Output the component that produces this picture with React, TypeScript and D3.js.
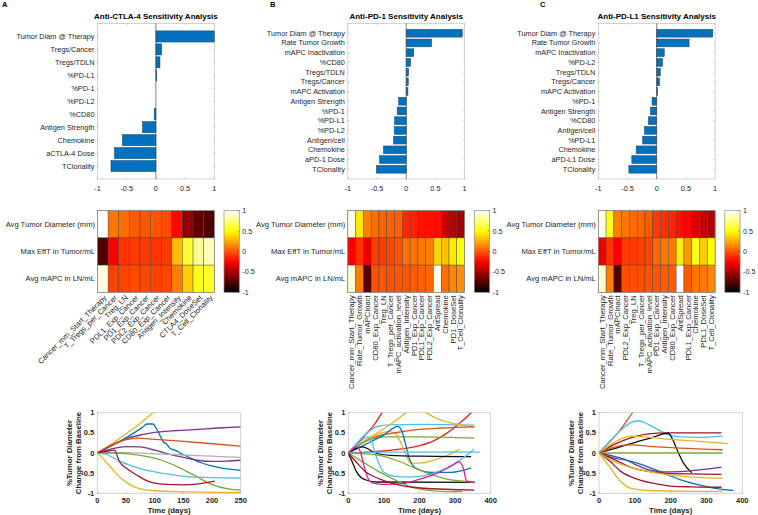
import React from "react";
import * as d3 from "d3";

// ---------------- DATA ----------------
const panelLetters = ["A", "B", "C"];
const titles = [
  "Anti-CTLA-4 Sensitivity Analysis",
  "Anti-PD-1 Sensitivity Analysis",
  "Anti-PD-L1 Sensitivity Analysis",
];

const barLabelsA = ["Tumor Diam @ Therapy", "Tregs/Cancer", "Tregs/TDLN", "%PD-L1", "%PD-1", "%PD-L2", "%CD80", "Antigen Strength", "Chemokine", "aCTLA-4 Dose", "TClonality"];
const barValuesA = [1.0, 0.1, 0.07, 0.015, 0, 0, -0.03, -0.23, -0.575, -0.71, -0.77];

const barLabelsB = ["Tumor Diam @ Therapy", "Rate Tumor Growth", "mAPC Inactivation", "%CD80", "Tregs/TDLN", "Tregs/Cancer", "mAPC Activation", "Antigen Strength", "%PD-1", "%PD-L1", "%PD-L2", "Antigen/cell", "Chemokine", "aPD-1 Dose", "TClonality"];
const barValuesB = [0.96, 0.435, 0.13, 0.075, 0.04, 0.035, 0.03, -0.13, -0.155, -0.2, -0.205, -0.215, -0.39, -0.455, -0.51];

const barLabelsC = ["Tumor Diam @ Therapy", "Rate Tumor Growth", "mAPC Inactivation", "%PD-L2", "Tregs/TDLN", "Tregs/Cancer", "mAPC Activation", "%PD-1", "Antigen Strength", "%CD80", "Antigen/cell", "%PD-L1", "Chemokine", "aPD-L1 Dose", "TClonality"];
const barValuesC = [0.96, 0.555, 0.13, 0.1, 0.062, 0.05, 0.017, -0.08, -0.108, -0.142, -0.21, -0.24, -0.352, -0.426, -0.477];

const heatRowLabels = ["Avg Tumor Diameter (mm)", "Max EffT in Tumor/mL", "Avg mAPC in LN/mL"];

const heatColsA = ["Cancer_mm_Start_Therapy", "T_Tregs_per_Cancer", "Treg_LN", "PDL1_Exp_Cancer", "PD1_Exp_Cancer", "PDL2_Exp_Cancer", "CD80_Exp_Cancer", "Antigen_Intensity", "Chemokine", "CTLA4_DoseSet", "T_Cell_Clonality"];
const heatRow1A = [1.0, 0.1, 0.07, 0.015, 0.0, 0.0, -0.03, -0.23, -0.575, -0.71, -0.77];
const heatRow2A = [-0.76, -0.25, -0.1, -0.08, -0.08, -0.1, -0.08, 0.3, 0.6, 0.8, 0.86];
const heatRow3A = [0.94, -0.06, -0.05, -0.03, -0.04, -0.05, -0.05, 0.12, 0.35, 0.55, 0.58];

const heatColsB = ["Cancer_mm_Start_Therapy", "Rate_Tumor_Growth", "mAPCInact", "CD80_Exp_Cancer", "Treg_LN", "T_Tregs_per_Cancer", "mAPC_activation_level", "Antigen_Intensity", "PD1_Exp_Cancer", "PDL1_Exp_Cancer", "PDL2_Exp_Cancer", "AntSpread", "Chemokine", "PD1_DoseSet", "T_Cell_Clonality"];
const heatRow1B = [0.96, 0.435, 0.13, 0.075, 0.04, 0.035, 0.03, -0.13, -0.155, -0.2, -0.205, -0.215, -0.39, -0.455, -0.51];
const heatRow2B = [-0.25, -0.1, -0.3, -0.07, -0.07, -0.05, -0.02, 0.08, 0.08, 0.1, 0.12, 0.38, 0.32, 0.44, 0.52];
const heatRow3B = [0.92, 0.12, -0.74, -0.02, 0.0, -0.02, 0.0, 0.0, 0.02, 0.03, 0.05, 0.97, 0.08, 0.14, 0.17];

const heatColsC = ["Cancer_mm_Start_Therapy", "Rate_Tumor_Growth", "mAPCInact", "PDL2_Exp_Cancer", "Treg_LN", "T_Tregs_per_Cancer", "mAPC_activation_level", "PD1_Exp_Cancer", "Antigen_Intensity", "CD80_Exp_Cancer", "AntSpread", "PDL1_Exp_Cancer", "Chemokine", "PDL1_DoseSet", "T_Cell_Clonality"];
const heatRow1C = [0.96, 0.555, 0.13, 0.1, 0.062, 0.05, 0.017, -0.08, -0.108, -0.142, -0.21, -0.24, -0.352, -0.426, -0.477];
const heatRow2C = [-0.3, -0.1, -0.25, -0.08, -0.08, -0.06, -0.04, 0.05, 0.1, 0.1, 0.45, 0.2, 0.55, 0.35, 0.5];
const heatRow3C = [0.92, 0.12, -0.76, -0.02, -0.02, -0.02, 0.0, 0.0, 0.02, 0.02, 1.0, 0.02, 0.1, 0.1, 0.15];

const barTicks = [-1, -0.5, 0, 0.5, 1];
const colorbarTicks = [1, 0.5, 0, -0.5, -1];
const lineYTicks = [1, 0.5, 0, -0.5, -1];
const lineXTicksA = [0, 50, 100, 150, 200, 250];
const lineXTicksBC = [0, 100, 200, 300, 400];
const yLabelLines = ["%Tumor Diameter", "Change from Baseline"];
const xLabel = "Time (days)";

type P = [number, number];
// Panel A trajectories (day, fractional change)
const lineA1: P[] = [[0, 0], [25, 0.22], [50, 0.48], [75, 0.74], [97, 1.0], [110, 1.15]];
const lineA2: P[] = [[0, 0], [30, 0.22], [55, 0.42], [78, 0.63], [87, 0.72], [97, 0.72], [101, 0.65], [106, 0.53], [115, 0.28], [121, 0.22], [127, 0.11], [135, 0.07], [147, -0.02], [159, -0.1], [170, -0.18], [199, -0.32], [250, -0.43]];
const lineA3: P[] = [[0, 0], [25, 0.19], [54, 0.37], [80, 0.46], [100, 0.51], [130, 0.55], [170, 0.58], [210, 0.62], [250, 0.65]];
const lineA4: P[] = [[0, 0], [25, 0.2], [50, 0.33], [70, 0.37], [100, 0.34], [140, 0.3], [200, 0.23], [250, 0.17]];
const lineA5: P[] = [[0, 0], [25, 0.1], [50, 0.16], [75, 0.15], [100, 0.07], [125, -0.03], [150, -0.11], [175, -0.18], [200, -0.21], [225, -0.2], [250, -0.18]];
const lineA6: P[] = [[0, 0], [50, 0.01], [100, -0.02], [150, -0.05], [200, -0.08], [250, -0.11]];
const lineA7: P[] = [[0, 0], [30, 0], [54, -0.02], [83, -0.08], [112, -0.18], [141, -0.35], [170, -0.56], [199, -0.78], [228, -0.89], [250, -0.92]];
const lineA8: P[] = [[0, 0], [15, -0.03], [25, -0.1], [42, -0.22], [54, -0.29], [83, -0.42], [112, -0.5], [141, -0.56], [170, -0.6], [250, -0.62]];
const lineA9: P[] = [[0, 0], [20, 0.05], [30, 0.07], [33, 0], [38, -0.2], [45, -0.32], [55, -0.42], [70, -0.56], [85, -0.68], [100, -0.75], [120, -0.78], [150, -0.79], [180, -0.76], [205, -0.7]];
const lineA10: P[] = [[0, 0], [10, -0.14], [25, -0.38], [42, -0.63], [54, -0.76], [72, -0.88], [95, -0.93], [140, -0.96], [250, -0.98]];

// Panel B trajectories
const lineB1: P[] = [[0, 0], [25, 0.23], [50, 0.47], [75, 0.73], [95, 1.0], [105, 1.12]];
const lineB2: P[] = [[0, 0], [50, 0.02], [100, 0.05], [150, 0.1], [200, 0.18], [240, 0.3], [275, 0.48], [310, 0.72], [345, 1.0], [355, 1.1]];
const lineB3: P[] = [[0, 0], [20, 0.2], [40, 0.4], [68, 0.6], [87, 0.67], [115, 0.7], [200, 0.71], [354, 0.69]];
const lineB4: P[] = [[0, 0], [50, 0.33], [100, 0.6], [130, 0.78], [162, 1.0], [190, 1.15], [218, 1.0], [250, 0.85], [290, 0.74], [330, 0.68], [355, 0.64]];
const lineB5: P[] = [[0, 0], [40, 0.25], [80, 0.45], [110, 0.53], [130, 0.5], [145, 0.3], [160, 0.0], [175, -0.25], [200, -0.25], [240, -0.18], [280, -0.05], [313, 0.09]];
const lineB6: P[] = [[0, 0], [40, 0.25], [87, 0.43], [130, 0.5], [181, 0.57], [260, 0.62], [354, 0.65]];
const lineB7: P[] = [[0, 0], [30, 0.2], [60, 0.33], [100, 0.4], [200, 0.4], [354, 0.37]];
const lineB8: P[] = [[0, 0], [50, 0.22], [100, 0.45], [139, 0.66], [150, 0.55], [160, 0.25], [170, -0.1], [180, -0.3], [200, -0.42], [230, -0.48], [290, -0.48], [345, -0.37]];
const lineB9: P[] = [[0, 0], [20, 0.1], [40, 0.15], [60, 0.08], [75, 0.0], [120, -0.06], [200, -0.08], [345, -0.09]];
const lineB10: P[] = [[0, 0], [10, -0.2], [21, -0.43], [35, -0.6], [50, -0.67], [80, -0.72], [355, -0.73]];
const lineB11: P[] = [[0, 0], [30, 0.25], [54, 0.4], [65, 0.3], [75, 0.0], [88, -0.3], [100, -0.48], [130, -0.58], [170, -0.6], [220, -0.55], [270, -0.4], [310, -0.2], [354, 0.1]];
const lineB12: P[] = [[0, 0], [100, 0.02], [200, 0.02], [370, 0.02]];
const lineB13: P[] = [[0, 0], [50, -0.02], [87, -0.06], [134, -0.18], [181, -0.35], [228, -0.52], [274, -0.64], [354, -0.72]];
const lineB14: P[] = [[0, 0], [40, -0.22], [87, -0.47], [134, -0.68], [181, -0.85], [220, -0.92], [260, -0.95], [320, -0.96]];
const lineB15: P[] = [[0, 0], [15, 0.12], [25, 0.15], [35, 0.0], [45, -0.35], [55, -0.62], [70, -0.75], [100, -0.78], [150, -0.76], [200, -0.65], [250, -0.5], [290, -0.32], [312, -0.22], [322, -0.35], [333, -0.7], [355, -0.73]];
const lineB16: P[] = [[0, 0], [30, -0.3], [50, -0.48], [87, -0.64], [134, -0.78], [181, -0.85], [274, -0.9], [354, -0.92]];

// Panel C trajectories
const lineC1: P[] = [[0, 0], [30, 0.28], [60, 0.58], [94, 1.0], [105, 1.12]];
const lineC2: P[] = [[0, 0], [20, 0.2], [40, 0.38], [68, 0.62], [90, 0.76], [110, 0.8], [133, 0.73], [160, 0.6], [190, 0.47], [226, 0.4], [280, 0.39], [345, 0.42]];
const lineC3: P[] = [[0, 0], [40, 0.2], [80, 0.35], [133, 0.47], [193, 0.5], [342, 0.5]];
const lineC4: P[] = [[0, 0], [50, 0.13], [100, 0.26], [150, 0.39], [193, 0.49], [203, 0.38], [217, 0.1], [226, -0.08], [235, -0.24], [259, -0.49]];
const lineC5: P[] = [[0, 0], [40, 0.25], [87, 0.42], [130, 0.4], [180, 0.35], [260, 0.3], [361, 0.23]];
const lineC6: P[] = [[0, 0], [40, 0.14], [87, 0.2], [150, 0.16], [226, 0.12], [345, 0.08]];
const lineC7: P[] = [[0, 0], [345, 0]];
const lineC8: P[] = [[0, 0], [40, -0.08], [70, -0.15], [100, -0.28], [140, -0.42], [180, -0.47], [230, -0.46], [280, -0.42], [342, -0.35]];
const lineC9: P[] = [[0, 0], [20, -0.07], [40, -0.12], [87, -0.2], [133, -0.33], [180, -0.5], [226, -0.66], [273, -0.78], [320, -0.87], [375, -0.93]];
const lineC10: P[] = [[0, 0], [40, -0.15], [87, -0.35], [133, -0.45], [180, -0.5], [250, -0.52], [342, -0.53]];
const lineC11: P[] = [[0, 0], [30, -0.2], [60, -0.45], [100, -0.63], [150, -0.75], [200, -0.82], [260, -0.84], [342, -0.85]];
const lineC12: P[] = [[0, 0], [40, -0.2], [87, -0.35], [133, -0.45], [200, -0.55], [260, -0.6], [345, -0.63]];
const lineC13: P[] = [[0, 0], [30, -0.35], [60, -0.7], [90, -0.88], [130, -0.93], [250, -0.95], [345, -0.95]];

// ---------------- STYLE ----------------
const FONT = "'Liberation Sans', Arial, Helvetica, sans-serif";
const TXT = "#262626";
const BLUE = "#0072BD", ORANGE = "#D95319", YELLOW = "#EDB120", PURPLE = "#7E2F8E", GREEN = "#77AC30", CYAN = "#4DBEEE", MAROON = "#A2142F", GRAY = "#B0B0B0", BLACK = "#111111", RED = "#E0261B", MAGENTA = "#E8169A";

const seriesA = [lineA1, lineA2, lineA3, lineA4, lineA5, lineA6, lineA7, lineA8, lineA9, lineA10];
const colorsA = [YELLOW, BLUE, PURPLE, ORANGE, PURPLE, GRAY, GREEN, CYAN, MAROON, YELLOW];
const seriesB = [lineB1, lineB2, lineB3, lineB4, lineB5, lineB6, lineB7, lineB8, lineB9, lineB10, lineB11, lineB12, lineB13, lineB14, lineB15, lineB16];
const colorsB = [RED, RED, CYAN, YELLOW, YELLOW, ORANGE, GREEN, BLUE, BLACK, BLACK, CYAN, CYAN, GREEN, GREEN, MAGENTA, MAROON];
const seriesC = [lineC1, lineC2, lineC3, lineC4, lineC5, lineC6, lineC7, lineC8, lineC9, lineC10, lineC11, lineC12, lineC13];
const colorsC = [ORANGE, CYAN, MAROON, BLACK, YELLOW, ORANGE, GREEN, PURPLE, BLUE, MAROON, MAROON, YELLOW, YELLOW];

const PANEL_LEFT = [97.5, 347.8, 598.3];
const AXW = 116.8;

function hot(v: number): string {
  const t = Math.max(0, Math.min(1, (v + 1) / 2));
  const r = Math.min(1, t / 0.375);
  const g = Math.max(0, Math.min(1, (t - 0.375) / 0.375));
  const b = Math.max(0, Math.min(1, (t - 0.75) / 0.25));
  return d3.rgb(r * 255, g * 255, b * 255).formatHex();
}

function BarPanel({ left, title, labels, values, barFrac }: any) {
  const top = 23.5, bottom = 179;
  const x = d3.scaleLinear().domain([-1, 1]).range([left, left + AXW]);
  const y = d3.scalePoint<string>().domain(labels).range([top, bottom]).padding(1);
  const bh = y.step() * barFrac;
  return (
    <g>
      <text x={left + AXW / 2} y={18.5} textAnchor="middle" fontWeight="bold" fontSize={8} fill="#000">{title}</text>
      <rect x={left} y={top} width={AXW} height={bottom - top} fill="none" stroke="#C8C8C8" strokeWidth={0.8} />
      {labels.map((l: string, i: number) => {
        const v = values[i];
        if (Math.abs(v) < 0.005) return null;
        const x0 = x(Math.min(0, v)), x1 = x(Math.max(0, v));
        return <rect key={l} x={x0} y={(y(l) as number) - bh / 2} width={x1 - x0} height={bh} fill={BLUE} stroke="#1D4168" strokeWidth={0.5} />;
      })}
      <line x1={x(0)} x2={x(0)} y1={top} y2={bottom} stroke="#4A4A4A" strokeWidth={0.7} />
      {barTicks.map((t) => (
        <g key={t}>
          <line x1={x(t)} x2={x(t)} y1={bottom} y2={bottom - 1.5} stroke="#999" strokeWidth={0.5} />
          <line x1={x(t)} x2={x(t)} y1={top} y2={top + 1.5} stroke="#999" strokeWidth={0.5} />
          <text x={x(t)} y={191} textAnchor="middle" fontSize={7.3} fill={TXT}>{String(t)}</text>
        </g>
      ))}
      {labels.map((l: string) => (
        <g key={l}>
          <line x1={left} x2={left + 1.5} y1={y(l)} y2={y(l)} stroke="#999" strokeWidth={0.5} />
          <line x1={left + AXW} x2={left + AXW - 1.5} y1={y(l)} y2={y(l)} stroke="#999" strokeWidth={0.5} />
          <text x={left - 3} y={y(l)} dy="0.35em" textAnchor="end" fontSize={7.3} fill={TXT}>{l}</text>
        </g>
      ))}
    </g>
  );
}

function HeatPanel({ left, cols, rows, diag }: any) {
  const top = 210.7, bottom = 292.3;
  const x = d3.scaleBand<string>().domain(cols).range([left, left + AXW]);
  const y = d3.scaleBand<string>().domain(heatRowLabels).range([top, bottom]);
  const cbx = left + 126.5, cbw = 15.3;
  const cy = d3.scaleLinear().domain([-1, 1]).range([bottom, top]);
  return (
    <g>
      {heatRowLabels.map((r, ri) =>
        cols.map((c: string, ci: number) => (
          <rect key={r + c} x={x(c)} y={y(r)} width={x.bandwidth()} height={y.bandwidth()} fill={hot(rows[ri][ci])} stroke="#3A3A3A" strokeWidth={0.4} />
        ))
      )}
      <rect x={left} y={top} width={AXW} height={bottom - top} fill="none" stroke="#8C8C8C" strokeWidth={0.7} />
      {heatRowLabels.map((r) => (
        <text key={r} x={left - 2.5} y={(y(r) as number) + y.bandwidth() / 2} dy="0.35em" textAnchor="end" fontSize={7.6} fill={TXT}>{r}</text>
      ))}
      {cols.map((c: string) => {
        const cx = (x(c) as number) + x.bandwidth() / 2;
        return diag ? (
          <text key={c} transform={`translate(${cx + 2.5},${bottom + 4}) rotate(-45)`} dy="0.35em" textAnchor="end" fontSize={7.6} fill={TXT}>{c}</text>
        ) : (
          <text key={c} transform={`translate(${cx},${bottom + 3}) rotate(-90)`} dy="0.35em" textAnchor="end" fontSize={7.6} fill={TXT}>{c}</text>
        );
      })}
      <rect x={cbx} y={top} width={cbw} height={bottom - top} fill="url(#hotgrad)" stroke="#8C8C8C" strokeWidth={0.7} />
      {colorbarTicks.map((t) => (
        <g key={t}>
          <line x1={cbx + cbw} x2={cbx + cbw - 2} y1={cy(t)} y2={cy(t)} stroke="#555" strokeWidth={0.5} />
          <text x={cbx + cbw + 3} y={cy(t)} dy="0.35em" fontSize={7.2} fill={TXT}>{String(t)}</text>
        </g>
      ))}
    </g>
  );
}

function LinePanel({ id, left, width, xMax, xTicks, series, colors }: any) {
  const top = 412.7, bottom = 493.3;
  const x = d3.scaleLinear().domain([0, xMax]).range([left, left + width]);
  const y = d3.scaleLinear().domain([-1, 1]).range([bottom, top]);
  const line = d3.line<P>().x((d) => x(d[0])).y((d) => y(d[1])).curve(d3.curveMonotoneX);
  return (
    <g>
      <defs>
        <clipPath id={id}><rect x={left} y={top} width={width} height={bottom - top} /></clipPath>
      </defs>
      <rect x={left} y={top} width={width} height={bottom - top} fill="#fff" stroke="#C8C8C8" strokeWidth={0.8} />
      <g clipPath={`url(#${id})`}>
        {series.map((s: P[], i: number) => (
          <path key={i} d={line(s) as string} fill="none" stroke={colors[i]} strokeWidth={1.3} />
        ))}
      </g>
      {xTicks.map((t: number) => (
        <g key={t}>
          <line x1={x(t)} x2={x(t)} y1={bottom} y2={bottom - 1.5} stroke="#999" strokeWidth={0.5} />
          <text x={x(t)} y={503} textAnchor="middle" fontSize={7.5} fontWeight="bold" fill={TXT}>{String(t)}</text>
        </g>
      ))}
      {lineYTicks.map((t) => (
        <g key={t}>
          <line x1={left} x2={left + 1.5} y1={y(t)} y2={y(t)} stroke="#999" strokeWidth={0.5} />
          <text x={left - 3} y={y(t)} dy="0.35em" textAnchor="end" fontSize={7.5} fontWeight="bold" fill={TXT}>{String(t)}</text>
        </g>
      ))}
      <text x={left + width / 2} y={513} textAnchor="middle" fontSize={7.8} fontWeight="bold" fill={TXT}>{xLabel}</text>
      {yLabelLines.map((l, i) => (
        <text key={l} transform={`translate(${left - 28 + i * 9},${(top + bottom) / 2}) rotate(-90)`} dy="0.35em" textAnchor="middle" fontSize={7.8} fontWeight="bold" fill={TXT}>{l}</text>
      ))}
    </g>
  );
}

export default function App() {
  const gradStops = d3.range(0, 1.0001, 0.05);
  return (
    <svg width={758} height={515} style={{ position: "absolute", left: 0, top: 0, background: "#fff" }} fontFamily={FONT}>
      <defs>
        <linearGradient id="hotgrad" x1="0" y1="1" x2="0" y2="0">
          {gradStops.map((o) => <stop key={o} offset={o} stopColor={hot(-1 + 2 * o)} />)}
        </linearGradient>
      </defs>
      <rect width={758} height={515} fill="#fff" />
      <text x={2} y={6.5} fontSize={7.5} fontWeight="bold" fill="#000">{panelLetters[0]}</text>
      <text x={270} y={6.5} fontSize={7.5} fontWeight="bold" fill="#000">{panelLetters[1]}</text>
      <text x={540} y={7} fontSize={7.5} fontWeight="bold" fill="#000">{panelLetters[2]}</text>

      <BarPanel left={PANEL_LEFT[0]} title={titles[0]} labels={barLabelsA} values={barValuesA} barFrac={0.86} />
      <BarPanel left={PANEL_LEFT[1]} title={titles[1]} labels={barLabelsB} values={barValuesB} barFrac={0.8} />
      <BarPanel left={PANEL_LEFT[2]} title={titles[2]} labels={barLabelsC} values={barValuesC} barFrac={0.8} />

      <HeatPanel left={PANEL_LEFT[0]} cols={heatColsA} rows={[heatRow1A, heatRow2A, heatRow3A]} diag={true} />
      <HeatPanel left={PANEL_LEFT[1]} cols={heatColsB} rows={[heatRow1B, heatRow2B, heatRow3B]} diag={false} />
      <HeatPanel left={PANEL_LEFT[2]} cols={heatColsC} rows={[heatRow1C, heatRow2C, heatRow3C]} diag={false} />

      <LinePanel id="clipA" left={97.3} width={143.4} xMax={250} xTicks={lineXTicksA} series={seriesA} colors={colorsA} />
      <LinePanel id="clipB" left={348.3} width={142.4} xMax={400} xTicks={lineXTicksBC} series={seriesB} colors={colorsB} />
      <LinePanel id="clipC" left={599} width={143.3} xMax={400} xTicks={lineXTicksBC} series={seriesC} colors={colorsC} />
    </svg>
  );
}
